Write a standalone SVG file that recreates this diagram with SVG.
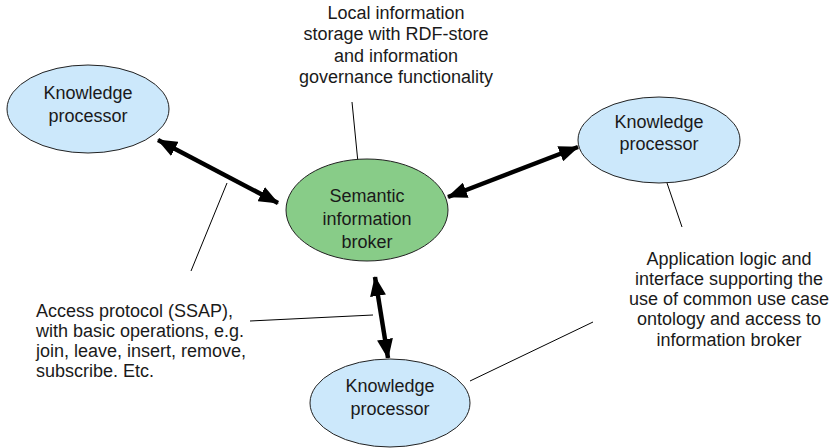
<svg xmlns="http://www.w3.org/2000/svg" width="832" height="448" viewBox="0 0 832 448">
<defs>
<style>
text{font-family:"Liberation Sans",Arial,sans-serif;font-size:18px;fill:#1a1a1a}
.c{text-anchor:middle}
.kp{fill:#cce8fb;stroke:#222;stroke-width:1}
.sib{fill:#88cc88;stroke:#222;stroke-width:1}
.thick{stroke:#000;stroke-width:4.5;fill:none;marker-start:url(#ah);marker-end:url(#ah)}
.thin{stroke:#000;stroke-width:1;fill:none}
</style>
<marker id="ah" viewBox="0 0 20 16" refX="19" refY="8" markerWidth="20" markerHeight="16" markerUnits="userSpaceOnUse" orient="auto-start-reverse">
<path d="M0,0 L20,8 L0,16 Z" fill="#000"/>
</marker>
</defs>
<rect width="832" height="448" fill="#fff"/>
<g id="connectors">
<line class="thick" x1="158" y1="140" x2="278" y2="203"/>
<line class="thick" x1="578" y1="147" x2="448" y2="197"/>
<line class="thick" x1="375" y1="277" x2="388" y2="358"/>
<line class="thin" x1="352" y1="102" x2="360" y2="183"/>
<line class="thin" x1="227" y1="183" x2="191" y2="271"/>
<line class="thin" x1="250" y1="321" x2="373" y2="315"/>
<line class="thin" x1="667" y1="183" x2="682" y2="227"/>
<line class="thin" x1="593" y1="322" x2="470" y2="381"/>
</g>
<g id="kp1">
<ellipse class="kp" cx="88" cy="109" rx="81" ry="44"/>
<text class="c" x="88" y="99">Knowledge</text>
<text class="c" x="88" y="122">processor</text>
</g>
<g id="kp2">
<ellipse class="kp" cx="659" cy="140" rx="81" ry="43"/>
<text class="c" x="659" y="128">Knowledge</text>
<text class="c" x="659" y="150">processor</text>
</g>
<g id="kp3">
<ellipse class="kp" cx="390" cy="403" rx="80" ry="44"/>
<text class="c" x="390" y="392">Knowledge</text>
<text class="c" x="390" y="415">processor</text>
</g>
<g id="sib">
<ellipse class="sib" cx="367" cy="210" rx="81" ry="51"/>
<text class="c" x="367" y="202">Semantic</text>
<text class="c" x="367" y="225">information</text>
<text class="c" x="367" y="248">broker</text>
</g>
<g id="note-storage">
<text class="c" x="396" y="19">Local information</text>
<text class="c" x="396" y="40">storage with RDF-store</text>
<text class="c" x="396" y="62">and information</text>
<text class="c" x="396" y="83">governance functionality</text>
</g>
<g id="note-app">
<text class="c" x="729" y="265">Application logic and</text>
<text class="c" x="729" y="285">interface supporting the</text>
<text class="c" x="729" y="305">use of common use case</text>
<text class="c" x="729" y="325">ontology and access to</text>
<text class="c" x="729" y="346">information broker</text>
</g>
<g id="note-ssap">
<text x="36" y="317">Access protocol (SSAP),</text>
<text x="36" y="337">with basic operations, e.g.</text>
<text x="36" y="357">join, leave, insert, remove,</text>
<text x="36" y="377">subscribe. Etc.</text>
</g>
</svg>
